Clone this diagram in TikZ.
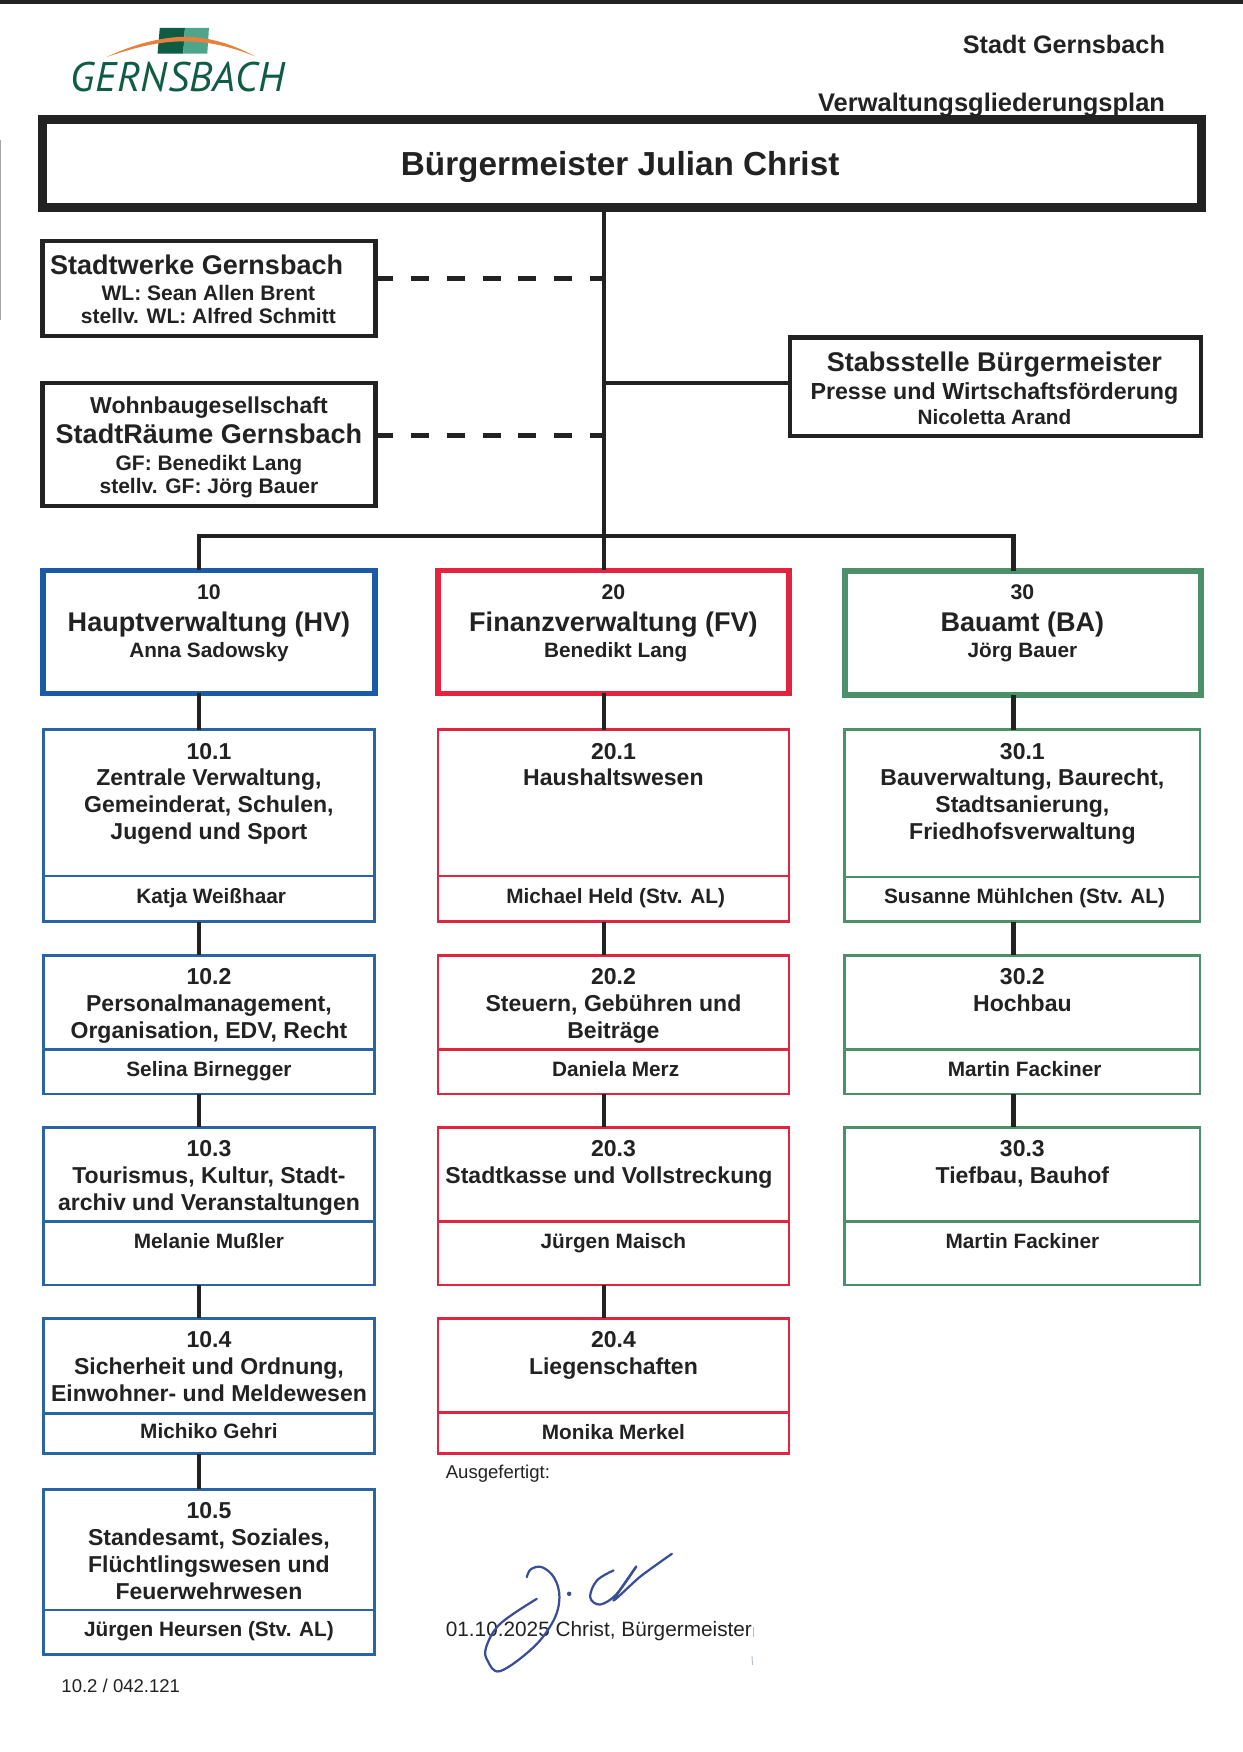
\documentclass[tikz,border=0pt]{standalone}
\usepackage{fontspec}
\setmainfont{Liberation Sans}
\newfontfamily\logofont[LetterSpace=1.2]{PT Sans}
\definecolor{ink}{HTML}{222222}
\definecolor{hvblue}{HTML}{1B5AA6}
\definecolor{fvred}{HTML}{E32440}
\definecolor{bagreen}{HTML}{4C9069}
\definecolor{subblue}{HTML}{2A64A5}
\definecolor{logodark}{HTML}{0F5C45}
\definecolor{logoteal}{HTML}{4FA58A}
\definecolor{logoorange}{HTML}{E97F3C}
\definecolor{signblue}{HTML}{3A4E98}
\newcommand{\fz}[1]{\fontsize{#1}{12pt}\selectfont}
\newcommand{\orgbox}[6]{\node[#6, minimum width={(#4-#2)*0.5pt}, minimum height={(#5-#3)*0.5pt}] (#1) at ({(#2+#4)/2},{(#3+#5)/2}) {};}
\tikzset{
  x=0.5pt, y=-0.5pt,
  boxbase/.style={rectangle, draw, inner sep=0pt, outer sep=0pt, fill=none},
  mainbox/.style={boxbase, draw=ink, line width=4pt},
  blackbox/.style={boxbase, draw=ink, line width=1.9pt},
  headblue/.style={boxbase, draw=hvblue, line width=2.5pt},
  headred/.style={boxbase, draw=fvred, line width=2.5pt},
  headgreen/.style={boxbase, draw=bagreen, line width=2.5pt},
  subbluebox/.style={boxbase, draw=subblue, line width=1.2pt},
  subredbox/.style={boxbase, draw=fvred, line width=1.2pt},
  subgreenbox/.style={boxbase, draw=bagreen, line width=1.2pt},
  txt/.style={inner sep=0pt, outer sep=0pt, align=center, text=ink, anchor=north, font=\bfseries\fz{10.3}},
  nametxt/.style={inner sep=0pt, outer sep=0pt, text=ink, anchor=base, font=\bfseries\fz{9.3}},
  plain/.style={inner sep=0pt, outer sep=0pt, text=ink, anchor=base west},
  conn/.style={draw=ink, line width=1.9pt},
  dashconn/.style={draw=ink, line width=2.2pt, dash pattern=on 8pt off 8pt},
  sign/.style={draw=signblue, line width=1pt, line cap=round, line join=round}
}
\begin{document}
\begin{tikzpicture}
\useasboundingbox (0,0) rectangle (1112,1568);
\fill[white] (0,0) rectangle (1112,1568);
% scan edges
\fill[ink] (0,0) rectangle (1112,3.5);
\draw[gray!70, line width=0.4pt] (0.5,125) -- (0.5,286);
% logo
\fill[logodark] (143,25) -- (165.5,25) -- (164,48) -- (141,48) -- cycle;
\fill[logoteal] (165.5,25) -- (187,25) -- (185.5,48) -- (164,48) -- cycle;
\fill[logoorange] (95.5,51) .. controls (125,37) and (150,33) .. (165,33) .. controls (185,33) and (205,38) .. (228.5,50.5) .. controls (205,41) and (185,37) .. (165,37) .. controls (145,37) and (125,41) .. (95.5,51) -- cycle;
\node[inner sep=0pt, anchor=base west, text=logodark] (logo) at (63,81.5) {\logofont\itshape\fontsize{18.5pt}{20pt}\selectfont GERNSBACH};
% header
\node[inner sep=0pt, anchor=base east, text=ink, font=\bfseries\fz{11.3}] (stadt) at (1043,48) {Stadt Gernsbach};
\node[inner sep=0pt, anchor=base east, text=ink, font=\bfseries\fz{11.4}] (plan) at (1043,100) {Verwaltungsgliederungsplan};
% boxes
\orgbox{main}{38}{107}{1075}{186}{mainbox}
\orgbox{sw}{38}{216}{336}{301}{blackbox}
\orgbox{wb}{38}{343}{336}{453}{blackbox}
\orgbox{stab}{707}{302}{1075}{390}{blackbox}
\orgbox{hv}{38.5}{510.5}{335.5}{620.5}{headblue}
\orgbox{fv}{392}{510.5}{706}{620.5}{headred}
\orgbox{ba}{756}{511}{1075}{622}{headgreen}
% left column
\orgbox{a1}{39}{653}{335}{784}{subbluebox}\orgbox{a1n}{39}{784}{335}{825}{subbluebox}
\orgbox{a2}{39}{855}{335}{939}{subbluebox}\orgbox{a2n}{39}{939}{335}{979}{subbluebox}
\orgbox{a3}{39}{1009}{335}{1093}{subbluebox}\orgbox{a3n}{39}{1093}{335}{1150}{subbluebox}
\orgbox{a4}{39}{1180}{335}{1265}{subbluebox}\orgbox{a4n}{39}{1265}{335}{1301}{subbluebox}
\orgbox{a5}{39}{1333}{335}{1441}{subbluebox}\orgbox{a5n}{39}{1441}{335}{1481}{subbluebox}
% middle column
\orgbox{b1}{392}{653}{706}{784}{subredbox}\orgbox{b1n}{392}{784}{706}{825}{subredbox}
\orgbox{b2}{392}{855}{706}{939}{subredbox}\orgbox{b2n}{392}{939}{706}{979}{subredbox}
\orgbox{b3}{392}{1009}{706}{1093}{subredbox}\orgbox{b3n}{392}{1093}{706}{1150}{subredbox}
\orgbox{b4}{392}{1180}{706}{1264}{subredbox}\orgbox{b4n}{392}{1264}{706}{1301}{subredbox}
% right column
\orgbox{c1}{756}{653}{1074}{785}{subgreenbox}\orgbox{c1n}{756}{785}{1074}{825}{subgreenbox}
\orgbox{c2}{756}{855}{1074}{939}{subgreenbox}\orgbox{c2n}{756}{939}{1074}{979}{subgreenbox}
\orgbox{c3}{756}{1009}{1074}{1093}{subgreenbox}\orgbox{c3n}{756}{1093}{1074}{1150}{subgreenbox}
% connector reference points
\coordinate (tx) at (540.5,0);
\coordinate (lx) at (178,0);
\coordinate (rx) at (907,0);
\coordinate (d1) at (540.5,249);
\coordinate (d2) at (540.5,390);
\coordinate (st) at (540.5,343);
\coordinate (bar) at (540.5,480);
% connectors
\draw[conn] (main.south -| tx) -- (fv.north -| tx);
\draw[dashconn] (sw.east |- d1) -- (d1);
\draw[dashconn] (wb.east |- d2) -- (d2);
\draw[conn] (st) -- (stab.west |- st);
\draw[conn] (hv.north -| lx) -- (bar -| lx) -- (bar -| rx) -- (ba.north -| rx);
\draw[conn] (hv.south -| lx) -- (a1.north -| lx);
\draw[conn] (a1n.south -| lx) -- (a2.north -| lx);
\draw[conn] (a2n.south -| lx) -- (a3.north -| lx);
\draw[conn] (a3n.south -| lx) -- (a4.north -| lx);
\draw[conn] (a4n.south -| lx) -- (a5.north -| lx);
\draw[conn] (fv.south -| tx) -- (b1.north -| tx);
\draw[conn] (b1n.south -| tx) -- (b2.north -| tx);
\draw[conn] (b2n.south -| tx) -- (b3.north -| tx);
\draw[conn] (b3n.south -| tx) -- (b4.north -| tx);
\draw[conn] (ba.south -| rx) -- (c1.north -| rx);
\draw[conn] (c1n.south -| rx) -- (c2.north -| rx);
\draw[conn] (c2n.south -| rx) -- (c3.north -| rx);
% texts
\node[inner sep=0pt, anchor=base, text=ink, font=\bfseries\fz{14.9}] (maint) at (555,157) {Bürgermeister Julian Christ};
\node[txt] (swt) at (176,228) {{\fz{12.1}Stadtwerke Gernsbach}\\[-0.5pt]{\fz{9.4}\hspace*{10.5pt}WL: Sean Allen Brent}\\[-1.5pt]{\fz{9.4}\hspace*{10.5pt}stellv. WL: Alfred Schmitt}};
\node[txt] (wbt) at (187,355) {{\fz{10.3}Wohnbaugesellschaft}\\[1.5pt]{\fz{12.1}StadtRäume Gernsbach}\\[0pt]{\fz{9.4}GF: Benedikt Lang}\\[-1.8pt]{\fz{9.4}stellv. GF: Jörg Bauer}};
\node[txt] (stabt) at (890,315) {{\fz{12.1}Stabsstelle Bürgermeister}\\[0.5pt]{\fz{10.4}Presse und Wirtschaftsförderung}\\[-1pt]{\fz{9.3}Nicoletta Arand}};
\node[txt] (hvt) at (187,523) {{\fz{9.5}10}\\[2.5pt]{\fz{12.1}Hauptverwaltung (HV)}\\[-0.5pt]{\fz{9.3}Anna Sadowsky}};
\node[txt] (fvt) at (549,523) {{\fz{9.5}20}\\[2.5pt]{\fz{12.1}Finanzverwaltung (FV)}\\[-0.5pt]{\fz{9.3}\hspace*{2pt}Benedikt Lang}};
\node[txt] (bat) at (915,523) {{\fz{9.5}30}\\[2.5pt]{\fz{12.1}Bauamt (BA)}\\[-0.5pt]{\fz{9.3}Jörg Bauer}};
\node[txt] (a1t) at (187,665) {10.1\\Zentrale Verwaltung,\\Gemeinderat, Schulen,\\Jugend und Sport};
\node[txt] (a2t) at (187,867) {10.2\\Personalmanagement,\\Organisation, EDV, Recht};
\node[txt] (a3t) at (187,1021) {10.3\\Tourismus, Kultur, Stadt-\\archiv und Veranstaltungen};
\node[txt] (a4t) at (187,1192) {10.4\\Sicherheit und Ordnung,\\Einwohner- und Meldewesen};
\node[txt] (a5t) at (187,1345) {10.5\\Standesamt, Soziales,\\Flüchtlingswesen und\\Feuerwehrwesen};
\node[txt] (b1t) at (549,665) {20.1\\Haushaltswesen};
\node[txt] (b2t) at (549,867) {20.2\\Steuern, Gebühren und\\Beiträge};
\node[txt] (b3t) at (545,1021) {\hspace*{4pt}20.3\\Stadtkasse und Vollstreckung};
\node[txt] (b4t) at (549,1192) {20.4\\Liegenschaften};
\node[txt] (c1t) at (915,665) {30.1\\Bauverwaltung, Baurecht,\\Stadtsanierung,\\Friedhofsverwaltung};
\node[txt] (c2t) at (915,867) {30.2\\Hochbau};
\node[txt] (c3t) at (915,1021) {30.3\\Tiefbau, Bauhof};
\node[nametxt] (a1m) at (189,809) {Katja Weißhaar};
\node[nametxt] (a2m) at (187,963) {Selina Birnegger};
\node[nametxt] (a3m) at (187,1117) {Melanie Mußler};
\node[nametxt] (a4m) at (187,1287) {Michiko Gehri};
\node[nametxt] (a5m) at (187,1465) {Jürgen Heursen (Stv. AL)};
\node[nametxt] (b1m) at (551,809) {Michael Held (Stv. AL)};
\node[nametxt] (b2m) at (551,963) {Daniela Merz};
\node[nametxt] (b3m) at (549,1117) {Jürgen Maisch};
\node[nametxt] (b4m) at (549,1288) {Monika Merkel};
\node[nametxt] (c1m) at (917,809) {Susanne Mühlchen (Stv. AL)};
\node[nametxt] (c2m) at (917,963) {Martin Fackiner};
\node[nametxt] (c3m) at (915,1117) {Martin Fackiner};
% footer
\node[plain, font=\fz{8.3}] (aus) at (399,1323) {Ausgefertigt:};
\node[plain, font=\fz{9.3}] (dat) at (399,1465) {01.10.2025 Christ, Bürgermeister};
\node[plain, font=\fz{8.3}] (ref) at (55,1515) {10.2 / 042.121};
% signature
\draw[sign] plot[smooth, tension=0.6] coordinates {(471.5,1411.5) (475,1404.5) (484.9,1402.5) (496,1412) (500.7,1429.4) (495.4,1450.3) (477.5,1474.2) (447.6,1495.6) (436.3,1486.1) (435.1,1474.2) (447.6,1453.3) (480.4,1430.9)};
\fill[signblue] (509.4,1426.4) circle (1pt);
\draw[sign] plot[smooth, tension=0.6] coordinates {(549.1,1405.5) (534.2,1414.5) (528.2,1429.4) (537.1,1436) (552,1426.4) (569.4,1402)};
\draw[sign] plot[smooth, tension=0.4] coordinates {(569.4,1402) (549,1432.4) (573,1411) (601.3,1390.6)};
\draw[signblue!40, line width=0.4pt] (674.5,1456) -- (674.5,1465);
\draw[signblue!40, line width=0.4pt] (673,1482) -- (673.5,1490);
\end{tikzpicture}
\end{document}
